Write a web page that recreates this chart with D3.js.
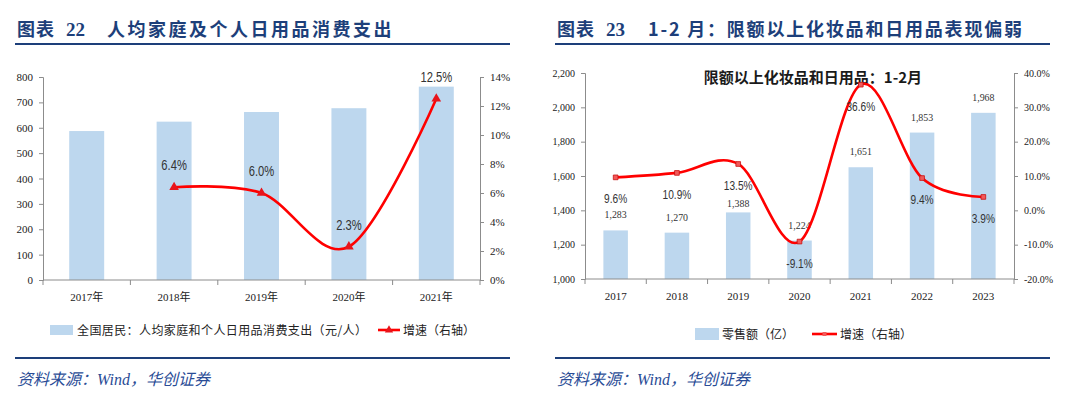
<!DOCTYPE html>
<html>
<head>
<meta charset="utf-8">
<script src="https://cdn.jsdelivr.net/npm/d3@7"></script>
<style>
  body { margin: 0; background: #fff; }
  svg { display: block; }
  .tick text { font-family: "Liberation Serif", "Times New Roman", serif; fill: #222; }
</style>
</head>
<body>
<div id="chart"></div>
<script>
// 左图：人均家庭及个人日用品消费支出
const yearsA = ["2017年", "2018年", "2019年", "2020年", "2021年"];
const spendA = [587, 624, 662, 677, 762];
const growthA = [null, 0.064, 0.060, 0.023, 0.125];
const ticksA = [0, 100, 200, 300, 400, 500, 600, 700, 800];
const ticksAR = [0, 0.02, 0.04, 0.06, 0.08, 0.10, 0.12, 0.14];

// 右图：限额以上化妆品和日用品 1-2月
const yearsB = ["2017", "2018", "2019", "2020", "2021", "2022", "2023"];
const salesB = [1283, 1270, 1388, 1224, 1651, 1853, 1968];
const growthB = [0.096, 0.109, 0.135, -0.091, 0.366, 0.094, 0.039];
const ticksB = [1000, 1200, 1400, 1600, 1800, 2000, 2200];
const ticksBR = [-0.2, -0.1, 0, 0.1, 0.2, 0.3, 0.4];

const navy = "#1d3f7a";
const barColor = "#bdd7ee";
const red = "#ff0000";
const axisColor = "#8c8c8c";
const sans = "'Liberation Sans', Arial, sans-serif";
const cjk = "'Noto Sans CJK SC', 'Noto Sans', sans-serif";

// 负号用普通的 "-"
const loc = d3.formatLocale({ decimal: ".", thousands: ",", grouping: [3], currency: ["", ""], minus: "-" });
const pct1 = loc.format(".1%");
const pct0 = loc.format(".0%");
const comma = loc.format(",");

const svg = d3.select("#chart").append("svg")
    .attr("width", 1080)
    .attr("height", 399);

// 标题、分隔线、资料来源
function frame(x0, num, title) {
    let g = svg.append("g");
    g.append("text").attr("x", x0 + 17).attr("y", 36)
        .attr("font-family", cjk).attr("font-weight", 700).attr("font-size", 18)
        .attr("letter-spacing", 1).attr("fill", navy).text("图表");
    g.append("text").attr("x", x0 + 66).attr("y", 36)
        .attr("font-family", "'Liberation Serif', serif").attr("font-weight", 700).attr("font-size", 19)
        .attr("fill", navy).text(num);
    g.append("text").attr("x", title.x).attr("y", 36)
        .attr("font-family", cjk).attr("font-weight", 700).attr("font-size", 18)
        .attr("letter-spacing", title.ls).attr("fill", navy).text(title.t);
    g.append("line").attr("x1", x0 + 15).attr("x2", x0 + 510).attr("y1", 44).attr("y2", 44)
        .attr("stroke", navy).attr("stroke-width", 2);
    g.append("line").attr("x1", x0 + 15).attr("x2", x0 + 510).attr("y1", 358).attr("y2", 358)
        .attr("stroke", navy).attr("stroke-width", 2);
    g.append("text").attr("x", x0 + 17).attr("y", 385)
        .attr("font-family", "'Liberation Serif', " + cjk).attr("font-style", "italic").attr("font-size", 16)
        .attr("fill", "#2a4c96").text("资料来源：Wind，华创证券");
}
frame(0, "22", { x: 107, t: "人均家庭及个人日用品消费支出", ls: 2.5 });
frame(540, "23", { x: 648, t: "1-2 月：限额以上化妆品和日用品表现偏弱", ls: 1.8 });

// 窄字体效果：横向压缩
function narrowText(sel, sx) {
    sel.attr("transform", d => `translate(${d.tx},${d.ty}) scale(${sx},1)`)
        .attr("text-anchor", "middle");
}

function styleAxis(size) {
    return function (g) {
        g.selectAll("path, line").attr("stroke", axisColor);
        g.selectAll("text").attr("font-size", size);
    };
}

// ---------- 左图 ----------
(function () {
    let x = d3.scaleBand().domain(yearsA).range([43, 480]).paddingInner(0.6).paddingOuter(0.3);
    let yL = d3.scaleLinear().domain([0, 800]).range([280, 77]);
    let yR = d3.scaleLinear().domain([0, 0.14]).range([280, 77]);
    let step = x.step();

    svg.append("g").selectAll("rect").data(spendA).join("rect")
        .attr("x", (d, i) => x(yearsA[i]))
        .attr("y", d => yL(d))
        .attr("width", x.bandwidth())
        .attr("height", d => yL(0) - yL(d))
        .attr("fill", barColor);

    svg.append("g").attr("transform", "translate(43,0)")
        .call(d3.axisLeft(yL).tickValues(ticksA).tickSize(4).tickPadding(6))
        .call(styleAxis(11));
    svg.append("g").attr("transform", "translate(480,0)")
        .call(d3.axisRight(yR).tickValues(ticksAR).tickFormat(pct0).tickSize(4).tickPadding(6))
        .call(styleAxis(11));

    // 横轴：刻度在类别之间
    let xa = svg.append("g").attr("transform", "translate(0,280)");
    xa.append("line").attr("x1", 43).attr("x2", 480).attr("stroke", axisColor);
    xa.selectAll("line.t").data(d3.range(yearsA.length + 1)).join("line")
        .attr("class", "t")
        .attr("x1", i => 43 + i * step).attr("x2", i => 43 + i * step)
        .attr("y1", 0).attr("y2", 5).attr("stroke", axisColor);
    xa.selectAll("text").data(yearsA).join("text")
        .attr("x", d => x(d) + x.bandwidth() / 2).attr("y", 21)
        .attr("text-anchor", "middle")
        .attr("font-family", "'Liberation Serif', " + cjk).attr("font-size", 11).attr("fill", "#222")
        .text(d => d);

    let pts = growthA.map((g, i) => ({ x: x(yearsA[i]) + x.bandwidth() / 2, g: g })).filter(p => p.g !== null);
    svg.append("path").datum(pts)
        .attr("d", d3.line().x(p => p.x).y(p => yR(p.g)).curve(d3.curveCardinal.tension(0)))
        .attr("fill", "none").attr("stroke", red).attr("stroke-width", 2.6);
    svg.append("g").selectAll("path").data(pts).join("path")
        .attr("transform", p => `translate(${p.x},${yR(p.g)})`)
        .attr("d", d3.symbol(d3.symbolTriangle, 40))
        .attr("fill", "#e8141b");
    svg.append("g").selectAll("text")
        .data(pts.map(p => ({ tx: p.x, ty: yR(p.g) - 17, g: p.g }))).join("text")
        .call(narrowText, 0.8)
        .attr("font-family", sans).attr("font-size", 14).attr("fill", "#333")
        .text(d => pct1(d.g));

    // 图例
    let lg = svg.append("g");
    lg.append("rect").attr("x", 50).attr("y", 325).attr("width", 23).attr("height", 10).attr("fill", barColor);
    lg.append("text").attr("x", 77).attr("y", 334.5)
        .attr("font-family", cjk).attr("font-size", 12).attr("letter-spacing", 0.4).attr("fill", "#222")
        .text("全国居民：人均家庭和个人日用品消费支出（元/人）");
    lg.append("line").attr("x1", 378).attr("x2", 400).attr("y1", 330).attr("y2", 330)
        .attr("stroke", red).attr("stroke-width", 2.6);
    lg.append("path").attr("transform", "translate(389,330)")
        .attr("d", d3.symbol(d3.symbolTriangle, 30)).attr("fill", "#e8141b");
    lg.append("text").attr("x", 403).attr("y", 334.5)
        .attr("font-family", cjk).attr("font-size", 12).attr("fill", "#222")
        .text("增速（右轴）");
})();

// ---------- 右图 ----------
(function () {
    let x = d3.scaleBand().domain(yearsB).range([585, 1014]).paddingInner(0.6).paddingOuter(0.3);
    let yL = d3.scaleLinear().domain([1000, 2200]).range([279, 73]);
    let yR = d3.scaleLinear().domain([-0.2, 0.4]).range([279, 73]);
    let step = x.step();

    svg.append("text").attr("x", 813).attr("y", 83).attr("text-anchor", "middle")
        .attr("font-family", cjk).attr("font-weight", 700).attr("font-size", 15).attr("fill", "#1a1a1a")
        .text("限额以上化妆品和日用品：1-2月");

    svg.append("g").selectAll("rect").data(salesB).join("rect")
        .attr("x", (d, i) => x(yearsB[i]))
        .attr("y", d => yL(d))
        .attr("width", x.bandwidth())
        .attr("height", d => yL(1000) - yL(d))
        .attr("fill", barColor);

    svg.append("g").attr("transform", "translate(585,0)")
        .call(d3.axisLeft(yL).tickValues(ticksB).tickFormat(comma).tickSize(4).tickPadding(6))
        .call(styleAxis(10));
    svg.append("g").attr("transform", "translate(1014,0)")
        .call(d3.axisRight(yR).tickValues(ticksBR).tickFormat(pct1).tickSize(4).tickPadding(6))
        .call(styleAxis(10));

    let xa = svg.append("g").attr("transform", "translate(0,279)");
    xa.append("line").attr("x1", 585).attr("x2", 1014).attr("stroke", axisColor);
    xa.selectAll("line.t").data(d3.range(yearsB.length + 1)).join("line")
        .attr("class", "t")
        .attr("x1", i => 585 + i * step).attr("x2", i => 585 + i * step)
        .attr("y1", 0).attr("y2", 5).attr("stroke", axisColor);
    xa.selectAll("text").data(yearsB).join("text")
        .attr("x", d => x(d) + x.bandwidth() / 2).attr("y", 21)
        .attr("text-anchor", "middle")
        .attr("font-family", "'Liberation Serif', serif").attr("font-size", 11).attr("fill", "#222")
        .text(d => d);

    let pts = growthB.map((g, i) => ({ x: x(yearsB[i]) + x.bandwidth() / 2, g: g, v: salesB[i] }));

    // 增速标签在点下方；柱顶数值若与之相撞则下移
    let gLabels = pts.map(p => ({ tx: p.x, ty: yR(p.g) + 26, g: p.g }));
    let vLabels = pts.map((p, i) => {
        let vy = yL(p.v) - 12;
        let gy = gLabels[i].ty;
        if (gy < vy && vy - gy < 15) vy = gy + 17;
        return { tx: p.x, ty: vy, v: p.v };
    });

    svg.append("g").selectAll("text").data(vLabels).join("text")
        .call(narrowText, 0.9)
        .attr("font-family", "'Liberation Serif', serif").attr("font-size", 11).attr("fill", "#333")
        .text(d => comma(d.v));

    svg.append("path").datum(pts)
        .attr("d", d3.line().x(p => p.x).y(p => yR(p.g)).curve(d3.curveCardinal.tension(0)))
        .attr("fill", "none").attr("stroke", red).attr("stroke-width", 2.6);
    svg.append("g").selectAll("path").data(pts).join("path")
        .attr("transform", p => `translate(${p.x},${yR(p.g)})`)
        .attr("d", d3.symbol(d3.symbolSquare, 22))
        .attr("fill", "#f25a5a").attr("stroke", "#c81010").attr("stroke-width", 0.8);
    svg.append("g").selectAll("text").data(gLabels).join("text")
        .call(narrowText, 0.78)
        .attr("font-family", sans).attr("font-size", 13).attr("fill", "#333")
        .text(d => pct1(d.g));

    let lg = svg.append("g");
    lg.append("rect").attr("x", 695).attr("y", 328).attr("width", 24).attr("height", 12).attr("fill", barColor);
    lg.append("text").attr("x", 722).attr("y", 339)
        .attr("font-family", cjk).attr("font-size", 12).attr("fill", "#222")
        .text("零售额（亿）");
    lg.append("line").attr("x1", 812).attr("x2", 837).attr("y1", 334).attr("y2", 334)
        .attr("stroke", red).attr("stroke-width", 2.6);
    lg.append("path").attr("transform", "translate(824.5,334)")
        .attr("d", d3.symbol(d3.symbolSquare, 16)).attr("fill", "#f25a5a");
    lg.append("text").attr("x", 840).attr("y", 339)
        .attr("font-family", cjk).attr("font-size", 12).attr("fill", "#222")
        .text("增速（右轴）");
})();
</script>
</body>
</html>
